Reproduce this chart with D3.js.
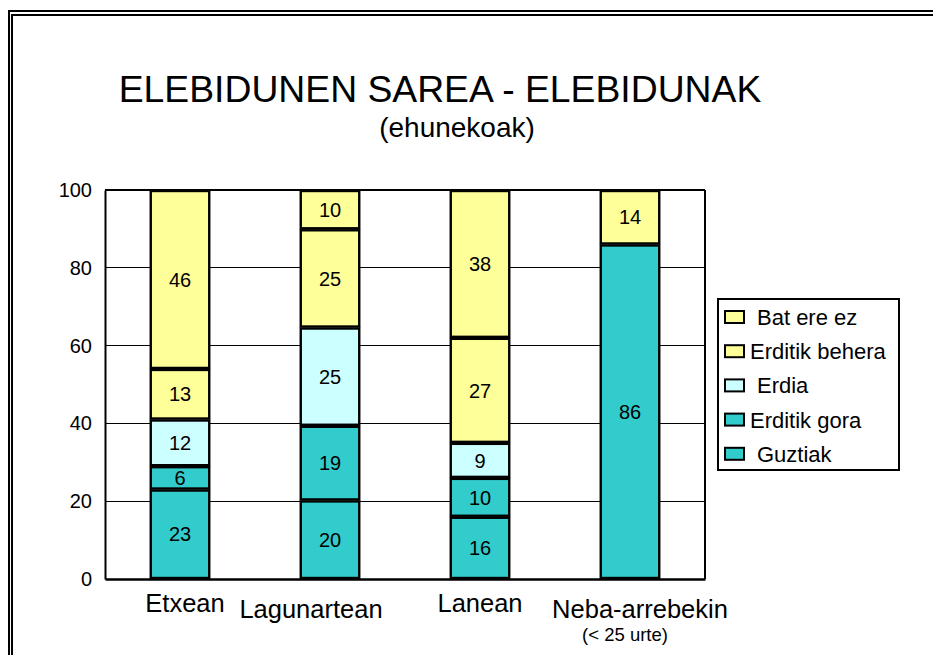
<!DOCTYPE html>
<html>
<head>
<meta charset="utf-8">
<script src="https://cdn.jsdelivr.net/npm/d3@7/dist/d3.min.js"></script>
<style>
  html, body { margin: 0; padding: 0; background: #fff; }
  svg { display: block; font-family: "Liberation Sans", Arial, Helvetica, sans-serif; }
</style>
</head>
<body>
<svg id="chart" width="933" height="655"></svg>
<script>
// ---- data ----
const categories = ["Etxean", "Lagunartean", "Lanean", "Neba-arrebekin"];
const categorySubLabels = ["", "", "", "(< 25 urte)"];
const seriesNames = ["Guztiak", "Erditik gora", "Erdia", "Erditik behera", "Bat ere ez"]; // bottom -> top
const guztiak       = [23, 20, 16, 86];
const erditikGora   = [6, 19, 10, 0];
const erdia         = [12, 25, 9, 0];
const erditikBehera = [13, 25, 27, 0];
const batEreEz      = [46, 10, 38, 14];
const yTicks = [0, 20, 40, 60, 80, 100];
const titleText = "ELEBIDUNEN SAREA - ELEBIDUNAK";
const subtitleText = "(ehunekoak)";

const seriesValues = [guztiak, erditikGora, erdia, erditikBehera, batEreEz];
const seriesColors = ["#33CCCC", "#33CCCC", "#CCFFFF", "#FFFF99", "#FFFF99"];

const table = categories.map((c, i) => {
  const row = { category: c };
  seriesNames.forEach((s, j) => row[s] = seriesValues[j][i]);
  return row;
});

const svg = d3.select("#chart");
const font = "'Liberation Sans', Arial, Helvetica, sans-serif";

// double frame
svg.append("rect").attr("x", 9).attr("y", 11).attr("width", 1200).attr("height", 1200)
  .attr("fill", "none").attr("stroke", "#000").attr("stroke-width", 2);
svg.append("rect").attr("x", 12).attr("y", 15).attr("width", 1200).attr("height", 1200)
  .attr("fill", "none").attr("stroke", "#000").attr("stroke-width", 2);

// title
svg.append("text").attr("x", 440).attr("y", 102).attr("text-anchor", "middle")
  .attr("font-size", 37.3).text(titleText);
svg.append("text").attr("x", 457).attr("y", 137).attr("text-anchor", "middle")
  .attr("font-size", 28).text(subtitleText);

// scales
const plot = { left: 105, right: 705, top: 190, bottom: 579 };
const x = d3.scaleBand().domain(categories).range([plot.left, plot.right]).padding(0);
const y = d3.scaleLinear().domain([0, 100]).range([plot.bottom, plot.top]);
const barW = x.bandwidth() * 0.39;

// gridlines
svg.append("g").selectAll("line").data(yTicks.filter(t => t > 0 && t < 100)).join("line")
  .attr("x1", plot.left).attr("x2", plot.right)
  .attr("y1", d => y(d)).attr("y2", d => y(d))
  .attr("stroke", "#000").attr("stroke-width", 1).attr("shape-rendering", "crispEdges");

// plot frame (top & right)
svg.append("line").attr("x1", plot.left).attr("x2", plot.right).attr("y1", y(100)).attr("y2", y(100))
  .attr("stroke", "#000").attr("stroke-width", 2);
svg.append("line").attr("x1", plot.right).attr("x2", plot.right).attr("y1", y(100)).attr("y2", y(0))
  .attr("stroke", "#000").attr("stroke-width", 2);

// stacked bars (100%)
const stack = d3.stack().keys(seriesNames).offset(d3.stackOffsetExpand);
const layers = stack(table);

const gBars = svg.append("g");
layers.forEach((layer, li) => {
  const segs = layer.map((d, i) => ({ y0: d[0] * 100, y1: d[1] * 100, v: seriesValues[li][i], cat: categories[i] }))
    .filter(d => d.v > 0);
  const g = gBars.append("g");
  g.selectAll("rect").data(segs).join("rect")
    .attr("x", d => x(d.cat) + (x.bandwidth() - barW) / 2)
    .attr("width", barW)
    .attr("y", d => y(d.y1) + 1)
    .attr("height", d => Math.max(0, y(d.y0) - y(d.y1) - 2))
    .attr("fill", seriesColors[li])
    .attr("stroke", "#000").attr("stroke-width", 2.4);
  g.selectAll("text").data(segs).join("text")
    .attr("x", d => x(d.cat) + x.bandwidth() / 2)
    .attr("y", d => (y(d.y0) + y(d.y1)) / 2)
    .attr("dy", "0.36em")
    .attr("text-anchor", "middle")
    .attr("font-size", 20)
    .text(d => d.v);
});

// y axis
const yAxis = d3.axisLeft(y).tickValues(yTicks).tickSize(0).tickPadding(13);
const gy = svg.append("g").attr("transform", `translate(${plot.left},0)`).call(yAxis);
gy.select(".domain").attr("stroke", "#000").attr("stroke-width", 2);
gy.selectAll("text").attr("font-size", 20).attr("font-family", font).attr("fill", "#000");

// x axis line
const xAxis = d3.axisBottom(x).tickSize(0).tickFormat("");
const gx = svg.append("g").attr("transform", `translate(0,${plot.bottom})`).call(xAxis);
gx.select(".domain").attr("stroke", "#000").attr("stroke-width", 2.5);

// category labels (staggered like the original)
const labelDx = [5, -19, 0, 10];
const labelBase = [612, 618, 612, 618];
svg.append("g").selectAll("text").data(categories).join("text")
  .attr("x", (d, i) => x(d) + x.bandwidth() / 2 + labelDx[i])
  .attr("y", (d, i) => labelBase[i])
  .attr("text-anchor", "middle")
  .attr("font-size", 25.5)
  .text(d => d);
svg.append("g").selectAll("text").data(categories.map((c, i) => ({ c, s: categorySubLabels[i], i })).filter(d => d.s)).join("text")
  .attr("x", d => x(d.c) + x.bandwidth() / 2 - 5)
  .attr("y", 641)
  .attr("text-anchor", "middle")
  .attr("font-size", 18.5)
  .text(d => d.s);

// legend
const legendItems = seriesNames.map((s, i) => ({ name: s, color: seriesColors[i] })).reverse();
const lg = svg.append("g");
lg.append("rect").attr("x", 718).attr("y", 299).attr("width", 181).attr("height", 171)
  .attr("fill", "#fff").attr("stroke", "#000").attr("stroke-width", 2);
const item = lg.selectAll("g.item").data(legendItems).join("g").attr("class", "item")
  .attr("transform", (d, i) => `translate(0,${317 + i * 34.2})`);
item.append("rect").attr("x", 725).attr("y", -6).attr("width", 19).attr("height", 12)
  .attr("fill", d => d.color).attr("stroke", "#000").attr("stroke-width", 2);
item.append("text").attr("x", (d, i) => i % 2 ? 750 : 757).attr("y", 0).attr("dy", "0.36em")
  .attr("font-size", 22).text(d => d.name);
</script>
</body>
</html>
